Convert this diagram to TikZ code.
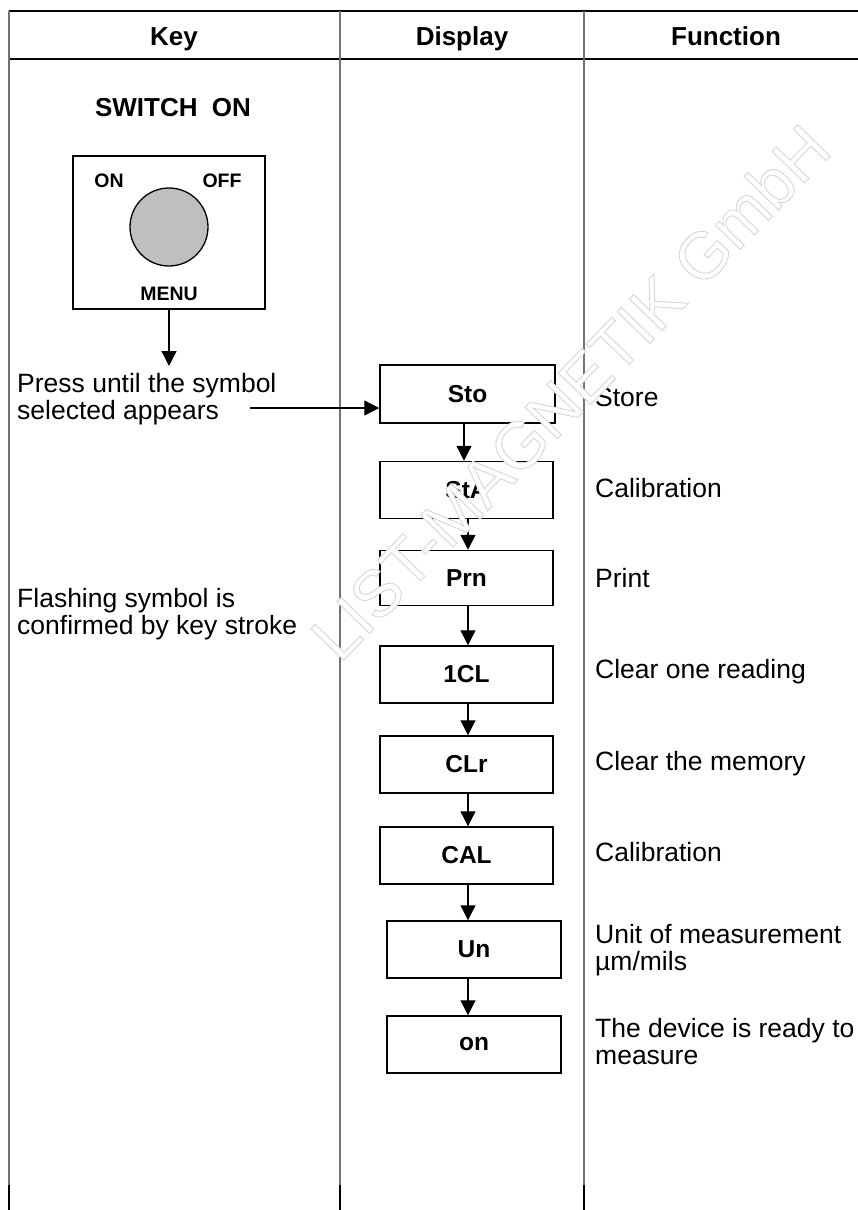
\documentclass[tikz,border=0pt]{standalone}
\usepackage{fontspec}
\setmainfont{Liberation Sans}
\usetikzlibrary{arrows.meta,calc}
\newcommand\wmtext[1]{\special{pdf:literal direct 2 Tr 1 g 0.84 G 0.9 w}#1\special{pdf:literal direct 0 Tr 0 g 0 G}}
\begin{document}
\begin{tikzpicture}[x=1pt,y=-1pt,
  hdr/.style={font=\fontsize{26}{28}\bfseries\selectfont, inner sep=0},
  body/.style={font=\fontsize{26.5}{27}\selectfont, inner sep=0, align=left},
  swlab/.style={font=\fontsize{19.5}{20}\bfseries\selectfont, inner sep=0},
  dispbox/.style={draw, line width=1.5pt, minimum width=174pt, minimum height=57pt, inner sep=0,
    font=\fontsize{24.5}{26}\bfseries\selectfont},
  arr/.style={line width=1.3pt, -{Triangle[length=15pt,width=15pt]}},
  rule/.style={line width=2.2pt},
  col/.style={black!55, line width=1.2pt},
  colend/.style={black, line width=2pt}]
\useasboundingbox (0,0) rectangle (858,1210);
% table rules
\draw[rule] (9,11) -- (858,11);
\draw[rule] (9,59) -- (858,59);
\foreach \xx in {9,340,584} {
  \draw[col] (\xx,11) -- (\xx,1185);
  \draw[colend] (\xx,1185) -- (\xx,1210);
}
% header
\node[hdr, anchor=base] (hkey) at (174,45.3) {Key};
\node[hdr, anchor=base] (hdisp) at (462,45.3) {Display};
\node[hdr, anchor=base] (hfun) at (726,45.3) {Function};
% switch
\node[hdr, anchor=base] (swon) at (173,116.3) {SWITCH\ \ ON};
\node[draw, line width=1.5pt, minimum width=192pt, minimum height=153pt, inner sep=0] (swbox) at (169,232.5) {};
\draw[line width=1.3pt, fill=black!25] (169,227) circle[radius=39];
\node[swlab, anchor=base] (lon) at (109,187) {ON};
\node[swlab, anchor=base] (loff) at (222,187) {OFF};
\node[swlab, anchor=base] (lmenu) at (169,300) {MENU};
\coordinate (swarr) at (169,366);
\draw[arr] (swbox.south) -- (swarr);
% key texts
\node[body, anchor=north west] (press) at (17,373.5) {Press until the symbol\\selected appears};
\node[body, anchor=north west] (flash) at (17,588) {Flashing symbol is\\confirmed by key stroke};
% display boxes
\node[dispbox, minimum width=175pt, minimum height=58pt] (sto) at (467.5,394) {Sto};
\node[dispbox, minimum width=173pt] (sta) at (466.5,490) {StA};
\node[dispbox, minimum width=173pt, minimum height=55pt] (prn) at (466.5,578) {Prn};
\node[dispbox, minimum width=173pt] (ocl) at (466.5,674.5) {1CL};
\node[dispbox, minimum width=173pt] (clr) at (466.5,764.5) {CLr};
\node[dispbox, minimum width=173pt] (cal) at (466.5,855.5) {CAL};
\node[dispbox] (un) at (474,949.5) {Un};
\node[dispbox] (on) at (474,1044.5) {on};
% arrows
\coordinate (pstart) at (250,408);
\draw[arr] (pstart) -- (pstart -| sto.west);
\draw[arr] ($(sto.south)+(-3.5,0)$) -- ($(sto.south |- sta.north)+(-3.5,0)$);
\draw[arr] ($(sta.south)+(1.5,0)$) -- ($(sta.south |- prn.north)+(1.5,0)$);
\draw[arr] ($(prn.south)+(1.5,0)$) -- ($(prn.south |- ocl.north)+(1.5,0)$);
\draw[arr] ($(ocl.south)+(1.5,0)$) -- ($(ocl.south |- clr.north)+(1.5,0)$);
\draw[arr] ($(clr.south)+(1.5,0)$) -- ($(clr.south |- cal.north)+(1.5,0)$);
\draw[arr] ($(cal.south)+(1.5,0)$) -- ($(cal.south |- un.north)+(1.5,0)$);
\draw[arr] ($(cal.south |- un.south)+(1.5,0)$) -- ($(cal.south |- on.north)+(1.5,0)$);
% function texts
\node[body, anchor=base west] (fsto) at (595,406) {Store};
\node[body, anchor=base west] (fsta) at (595,497) {Calibration};
\node[body, anchor=base west] (fprn) at (595,587) {Print};
\node[body, anchor=base west] (focl) at (595,678) {Clear one reading};
\node[body, anchor=base west] (fclr) at (595,770) {Clear the memory};
\node[body, anchor=base west] (fcal) at (595,861) {Calibration};
\node[body, anchor=north west] (fun) at (595,924) {Unit of measurement\\µm/mils};
\node[body, anchor=north west] (fon) at (595,1018) {The device is ready to\\measure};
% watermark
\node[rotate=46, font=\fontsize{66}{66}\selectfont, inner sep=0] (wm) at (570,392) {\wmtext{LIST-MAGNETIK GmbH}};
\end{tikzpicture}
\end{document}
